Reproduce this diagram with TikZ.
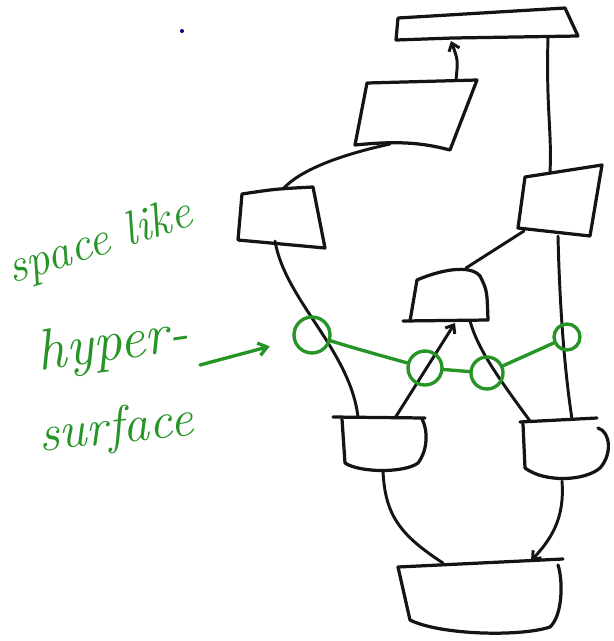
\documentclass[tikz,border=0pt]{standalone}
\usepackage{tikz}
\usetikzlibrary{positioning, arrows.meta}
\definecolor{penblack}{RGB}{20, 20, 20}
\definecolor{pengreen}{RGB}{38, 148, 38}

\begin{document}
\begin{tikzpicture}[
    x=0.025cm, y=-0.025cm,
    box/.style={draw=penblack, line width=2.3pt, line join=round, line cap=round},
    wire/.style={draw=penblack, line width=2.1pt, line cap=round},
    warr/.style={wire, -{Straight Barb[length=5pt, width=8pt]}},
    hole/.style={circle, draw=pengreen, line width=2.4pt, inner sep=0pt},
    hyper/.style={draw=pengreen, line width=2.4pt, line cap=round},
    note/.style={text=pengreen, font=\itshape},
]
\useasboundingbox (0,0) rectangle (614,641);

% Boxes
\draw[box] (398,18) -- (565,8) -- (578,36) -- (453,38) -- (396,40) -- cycle;
\draw[box] (367,83) -- (477,80) -- (450,150)
    .. controls (420,142) and (395,141) .. (355,145) -- cycle;
\draw[box] (242,194) .. controls (275,189) .. (313,187)
    -- (325,248) -- (238,240) -- cycle;
\draw[box] (525,177) -- (602,165) -- (590,236) -- (518,228) -- cycle;
\draw[box] (410,321) -- (417,280) .. controls (440,270) and (470,264) .. (480,276)
    .. controls (487,290) .. (488,320) -- (403,321);
\draw[box] (333,417) -- (425,418);
\draw[box] (342,419) -- (345,463) .. controls (360,473) and (405,473) .. (418,463)
    .. controls (428,450) and (428,430) .. (422,419);
\draw[box] (520,422) -- (597,418);
\draw[box] (523,424) -- (525,468) .. controls (545,483) and (585,481) .. (600,468)
    .. controls (612,455) and (611,432) .. (598,428);
\draw[box] (398,567) -- (563,559);
\draw[box] (398,567) -- (410,620) .. controls (440,635) and (520,637) .. (550,627)
    .. controls (563,615) and (563,580) .. (558,565);

% Ports
\coordinate (t-in)  at (451,41);
\coordinate (t-out) at (548,37);
\coordinate (a-top) at (456,80);
\coordinate (a-bot) at (390,144);
\coordinate (b-top) at (283,189);
\coordinate (b-bot) at (275,241);
\coordinate (c-top) at (550,173);
\coordinate (c-bl)  at (524,231);
\coordinate (c-bot) at (558,236);
\coordinate (e-top) at (466,268);
\coordinate (e-bl)  at (455,323);
\coordinate (e-br)  at (470,321);
\coordinate (d-tl)  at (358,417);
\coordinate (d-tr)  at (395,418);
\coordinate (d-bot) at (383,471);
\coordinate (f-tl)  at (530,421);
\coordinate (f-top) at (572,419);
\coordinate (f-bot) at (562,481);
\coordinate (g-tl)  at (443,563);
\coordinate (g-tr)  at (531,561);

% Wires
\draw[warr] (a-top) .. controls (458,60) .. (t-in);
\draw[wire] (t-out) .. controls (546,110) and (552,130) .. (c-top);
\draw[wire] (b-top) .. controls (300,170) and (340,155) .. (a-bot);
\draw[wire] (e-top) -- (c-bl);
\draw[wire] (c-bot) .. controls (560,320) and (566,380) .. (f-top);
\draw[wire] (b-bot) .. controls (285,300) and (350,350) .. (d-tl);
\draw[warr] (d-tr) -- (e-bl);
\draw[wire] (e-br) .. controls (478,350) and (500,380) .. (f-tl);
\draw[wire] (d-bot) .. controls (385,515) and (400,535) .. (g-tl);
\draw[warr] (f-bot) .. controls (565,520) and (550,540) .. (g-tr);

% Hypersurface
\node[hole, minimum size=36*0.025cm] (h1) at (312,335) {};
\node[hole, minimum size=34*0.025cm] (h2) at (425,368) {};
\node[hole, minimum size=32*0.025cm] (h3) at (487,373) {};
\node[hole, minimum size=26*0.025cm] (h4) at (567,337) {};
\draw[hyper] (h1) .. controls (360,350) and (390,358) .. (h2);
\draw[hyper] (h2) -- (h3) -- (h4);

% Label
\node[note, rotate=18, font=\itshape\fontsize{34}{34}\selectfont] (space) at (100,243) {space like};
\node[note, rotate=8, font=\itshape\fontsize{41}{41}\selectfont]  (hyp)   at (113,346) {hyper-};
\node[note, rotate=6, font=\itshape\fontsize{37}{37}\selectfont]  (surf)  at (116,430) {surface};
\coordinate (tail) at (200,365);
\draw[hyper, -{Straight Barb[length=6pt, width=9pt]}, shorten >=0.6cm] (tail) -- (h1);

% stray dot
\fill[blue!50!black] (182,31) circle (2);

\end{tikzpicture}
\end{document}
